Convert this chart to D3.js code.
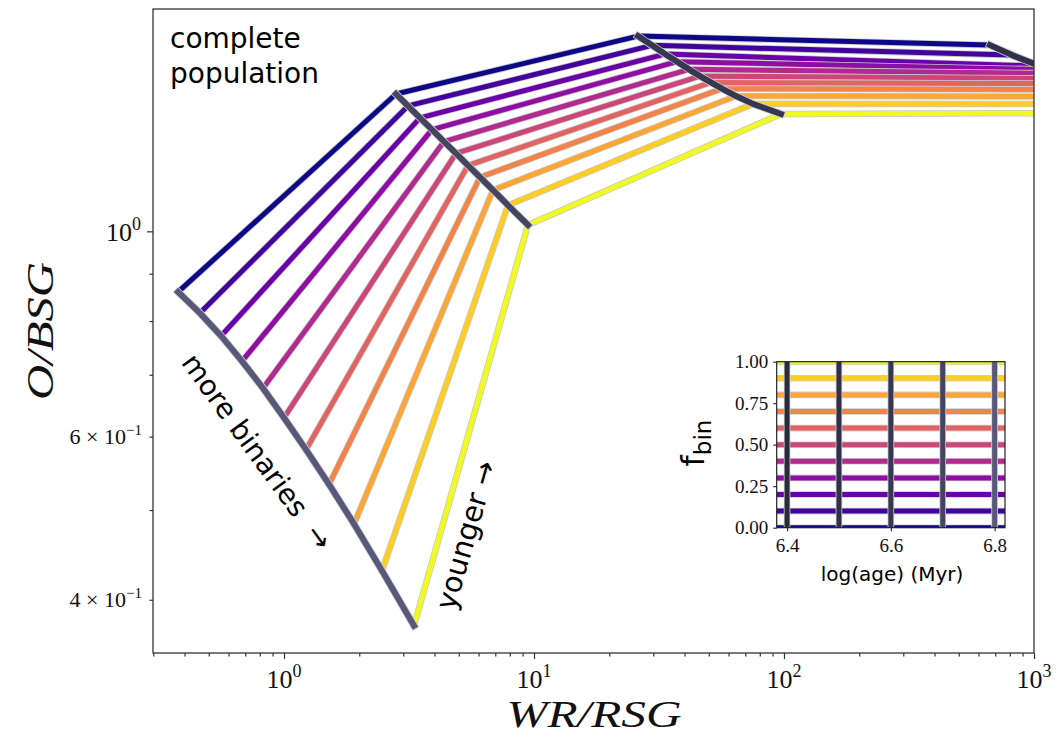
<!DOCTYPE html>
<html><head><meta charset="utf-8">
<script src="https://cdn.jsdelivr.net/npm/d3@7"></script>
<style>body{margin:0;background:#fff} svg{display:block}</style>
</head><body><svg id="c" width="1057" height="737"></svg>
<script>
// ---------------- data ----------------
const ages  = [6.4, 6.5, 6.6, 6.7, 6.8];
const fbins = [0, 0.1, 0.2, 0.3, 0.4, 0.5, 0.6, 0.7, 0.8, 0.9, 1.0];

// WR/RSG and O/BSG for each age, one value per fbin
const wrRsg68 = [0.377, 0.461, 0.560, 0.679, 0.824, 1.000, 1.225, 1.514, 1.906, 2.466, 3.311];
const oBsg68  = [0.860, 0.816, 0.771, 0.724, 0.677, 0.629, 0.581, 0.533, 0.483, 0.430, 0.375];
const wrRsg67 = [2.805, 3.133, 3.499, 3.908, 4.365, 4.875, 5.445, 6.081, 6.855, 7.870, 9.462];
const oBsg67  = [1.407, 1.366, 1.326, 1.288, 1.250, 1.214, 1.178, 1.144, 1.108, 1.067, 1.016];
const wrRsg66 = [26.06, 29.65, 33.42, 37.33, 41.69, 46.13, 51.05, 56.49, 64.27, 75.16, 97.27];
const oBsg66  = [1.625, 1.588, 1.554, 1.525, 1.496, 1.471, 1.448, 1.426, 1.400, 1.373, 1.339];
const wrRsg65 = [666.8, 816.6, 1057, 1459, 2014, 2911, 4208, 6081, 9639, 15276, 29107];
const oBsg65  = [1.589, 1.550, 1.508, 1.493, 1.479, 1.460, 1.442, 1.421, 1.397, 1.372, 1.345];
const wrRsg64 = [3162, 3837, 5012, 6310, 7943, 10000, 12589, 15849, 19953, 25119, 31623];
const oBsg64  = [1.332, 1.300, 1.270, 1.255, 1.240, 1.230, 1.220, 1.210, 1.200, 1.190, 1.180];

const xMajorTicks = [1, 10, 100, 1000];
const xMajorExp   = ["0", "1", "2", "3"];
const xMinorTicks = [0.3,0.4,0.5,0.6,0.7,0.8,0.9, 2,3,4,5,6,7,8,9, 20,30,40,50,60,70,80,90, 200,300,400,500,600,700,800,900];
const yMajorTicks = [1];
const yMinorTicks = [0.4, 0.5, 0.6, 0.7, 0.8, 0.9];
const yMinorLabeled = [0.4, 0.6];
const yMinorMant    = ["4", "6"];
const insetYTicks = [0, 0.25, 0.5, 0.75, 1.0];
const insetXTicks = [6.4, 6.6, 6.8];

// ---------------- styles ----------------
const ageColor = {6.4:"#2b2b3b", 6.5:"#30304a", 6.6:"#373752", 6.7:"#45455f", 6.8:"#58587a"};
const serif = "'Liberation Serif', 'DejaVu Serif', serif";
const sans  = "'DejaVu Sans', sans-serif";

const byAge = {
  6.4: [wrRsg64, oBsg64], 6.5: [wrRsg65, oBsg65], 6.6: [wrRsg66, oBsg66],
  6.7: [wrRsg67, oBsg67], 6.8: [wrRsg68, oBsg68]
};

const svg = d3.select("#c");
const M = {l:153, r:1034, t:9, b:653};
const x = d3.scaleLog().domain([0.2992, 1000]).range([M.l, M.r]);
const y = d3.scaleLog().domain([0.3504, 1.7383]).range([M.b, M.t]);

svg.append("clipPath").attr("id","mainclip").append("rect")
  .attr("x",M.l).attr("y",M.t).attr("width",M.r-M.l).attr("height",M.b-M.t);

const line = d3.line().x(d=>x(d[0])).y(d=>y(d[1]));
const g = svg.append("g").attr("clip-path","url(#mainclip)");

// colored fbin lines (old -> young)
const ageOrder = [6.8, 6.7, 6.6, 6.5, 6.4];
fbins.forEach((f,i)=>{
  const pts = ageOrder.map(a=>[byAge[a][0][i], byAge[a][1][i]]);
  g.append("path").attr("d",line(pts)).attr("fill","none")
    .attr("stroke","#c9c9c9").attr("stroke-width",6.6)
    .attr("stroke-linejoin","round").attr("stroke-linecap","square");
  g.append("path").attr("d",line(pts)).attr("fill","none")
    .attr("stroke",d3.interpolatePlasma(f)).attr("stroke-width",5)
    .attr("stroke-linejoin","round").attr("stroke-linecap","square");
});
// gray age lines
ages.forEach(a=>{
  const pts = fbins.map((f,i)=>[byAge[a][0][i], byAge[a][1][i]]);
  g.append("path").attr("d",line(pts)).attr("fill","none")
    .attr("stroke","#cfcfcf").attr("stroke-width",7.6)
    .attr("stroke-linejoin","round").attr("stroke-linecap","square");
  g.append("path").attr("d",line(pts)).attr("fill","none")
    .attr("stroke",ageColor[a]).attr("stroke-width",6)
    .attr("stroke-linejoin","round").attr("stroke-linecap","square");
});

// frame
svg.append("rect").attr("x",M.l).attr("y",M.t).attr("width",M.r-M.l).attr("height",M.b-M.t)
  .attr("fill","none").attr("stroke","#333").attr("stroke-width",1.3);

// axes ticks
const xa = svg.append("g").attr("transform",`translate(0,${M.b})`);
xa.call(d3.axisBottom(x).tickValues(xMajorTicks).tickSize(6).tickFormat(""));
const xm = svg.append("g").attr("transform",`translate(0,${M.b})`);
xm.call(d3.axisBottom(x).tickValues(xMinorTicks).tickSize(3.5).tickFormat(""));
const ya = svg.append("g").attr("transform",`translate(${M.l},0)`);
ya.call(d3.axisLeft(y).tickValues(yMajorTicks).tickSize(6).tickFormat(""));
const ym = svg.append("g").attr("transform",`translate(${M.l},0)`);
ym.call(d3.axisLeft(y).tickValues(yMinorTicks).tickSize(3.5).tickFormat(""));
[xa,xm,ya,ym].forEach(s=>{ s.select(".domain").remove(); s.selectAll("line").attr("stroke","#333").attr("stroke-width",1.2); });

// x tick labels 10^n
xMajorTicks.forEach((v,i)=>{
  const t = svg.append("text").attr("x",x(v)).attr("y",688).attr("text-anchor","middle")
    .attr("font-family",serif).attr("font-size",26).attr("fill","#111");
  t.append("tspan").text("10");
  t.append("tspan").attr("dy",-11).attr("font-size",18).text(xMajorExp[i]);
});
// y tick labels
yMajorTicks.forEach(v=>{
  const t = svg.append("text").attr("x",141).attr("y",y(v)+10).attr("text-anchor","end")
    .attr("font-family",serif).attr("font-size",26).attr("fill","#111");
  t.append("tspan").text("10");
  t.append("tspan").attr("dy",-11).attr("font-size",18).text("0");
});
yMinorLabeled.forEach((v,i)=>{
  const t = svg.append("text").attr("x",142).attr("y",y(v)+7).attr("text-anchor","end")
    .attr("font-family",serif).attr("font-size",22).attr("fill","#111");
  t.append("tspan").text(yMinorMant[i]+" \u00d7 10");
  t.append("tspan").attr("dy",-9).attr("font-size",15).text("\u22121");
});

// axis titles
svg.append("text").attr("x",594).attr("y",727).attr("text-anchor","middle")
  .attr("font-family",serif).attr("font-style","italic").attr("font-size",38)
  .attr("textLength",175).attr("lengthAdjust","spacingAndGlyphs").attr("fill","#111").text("WR/RSG");
svg.append("text").attr("transform","translate(53,331) rotate(-90)").attr("text-anchor","middle")
  .attr("font-family",serif).attr("font-style","italic").attr("font-size",38)
  .attr("textLength",138).attr("lengthAdjust","spacingAndGlyphs").attr("fill","#111").text("O/BSG");

// annotations
const t1 = svg.append("text").attr("font-family",sans).attr("font-size",28).attr("fill","#000");
t1.append("tspan").attr("x",170).attr("y",48).text("complete");
t1.append("tspan").attr("x",170).attr("y",83).text("population");
svg.append("text").attr("transform","translate(257,452) rotate(54)").attr("text-anchor","middle")
  .attr("dominant-baseline","central").attr("font-family",sans).attr("font-size",28).text("more binaries \u00a0\u2192");
svg.append("text").attr("transform","translate(466,535) rotate(-74)").attr("text-anchor","middle")
  .attr("dominant-baseline","central").attr("font-family",sans).attr("font-size",29).text("younger \u2192");

// ---------------- inset ----------------
const I = {l:776.7, r:1005, t:361.7, b:527.7};
const xi = d3.scaleLinear().domain([6.38, 6.82]).range([I.l, I.r]);
const yi = d3.scaleLinear().domain([0, 1]).range([I.b, I.t]);
svg.append("rect").attr("x",I.l).attr("y",I.t).attr("width",I.r-I.l).attr("height",I.b-I.t).attr("fill","#fff");
svg.append("clipPath").attr("id","iclip").append("rect")
  .attr("x",I.l).attr("y",I.t).attr("width",I.r-I.l).attr("height",I.b-I.t);
const gi = svg.append("g").attr("clip-path","url(#iclip)");
fbins.forEach(f=>{
  const [a,b] = xi.domain();
  gi.append("line").attr("x1",xi(a)).attr("x2",xi(b)).attr("y1",yi(f)).attr("y2",yi(f))
    .attr("stroke","#cdcdcd").attr("stroke-width",6.6);
  gi.append("line").attr("x1",xi(a)).attr("x2",xi(b)).attr("y1",yi(f)).attr("y2",yi(f))
    .attr("stroke",d3.interpolatePlasma(f)).attr("stroke-width",5);
});
ages.forEach(a=>{
  gi.append("line").attr("x1",xi(a)).attr("x2",xi(a)).attr("y1",yi(0)).attr("y2",yi(1))
    .attr("stroke","#cfcfcf").attr("stroke-width",6.6);
  gi.append("line").attr("x1",xi(a)).attr("x2",xi(a)).attr("y1",yi(0)).attr("y2",yi(1))
    .attr("stroke",ageColor[a]).attr("stroke-width",5);
});
svg.append("rect").attr("x",I.l).attr("y",I.t).attr("width",I.r-I.l).attr("height",I.b-I.t)
  .attr("fill","none").attr("stroke","#222").attr("stroke-width",1.2);
const xia = svg.append("g").attr("transform",`translate(0,${I.b})`)
  .call(d3.axisBottom(xi).tickValues(insetXTicks).tickSize(3.5).tickFormat(d3.format(".1f")));
const yia = svg.append("g").attr("transform",`translate(${I.l},0)`)
  .call(d3.axisLeft(yi).tickValues(insetYTicks).tickSize(3.5).tickFormat(d3.format(".2f")));
[xia,yia].forEach(s=>{
  s.select(".domain").remove();
  s.selectAll("line").attr("stroke","#222").attr("stroke-width",1.1);
  s.selectAll("text").attr("font-family",serif).attr("font-size",19).attr("fill","#111");
});
xia.selectAll("text").attr("dy","0.95em");
yia.selectAll("text").attr("dx","-0.1em");
svg.append("text").attr("x",892).attr("y",581).attr("text-anchor","middle")
  .attr("font-family",sans).attr("font-size",20).text("log(age) (Myr)");
const fb = svg.append("text").attr("transform","translate(704,443) rotate(-90)").attr("text-anchor","middle")
  .attr("font-family",sans).attr("font-size",32);
fb.append("tspan").text("f");
fb.append("tspan").attr("dy",7).attr("font-size",23).text("bin");
</script></body></html>
